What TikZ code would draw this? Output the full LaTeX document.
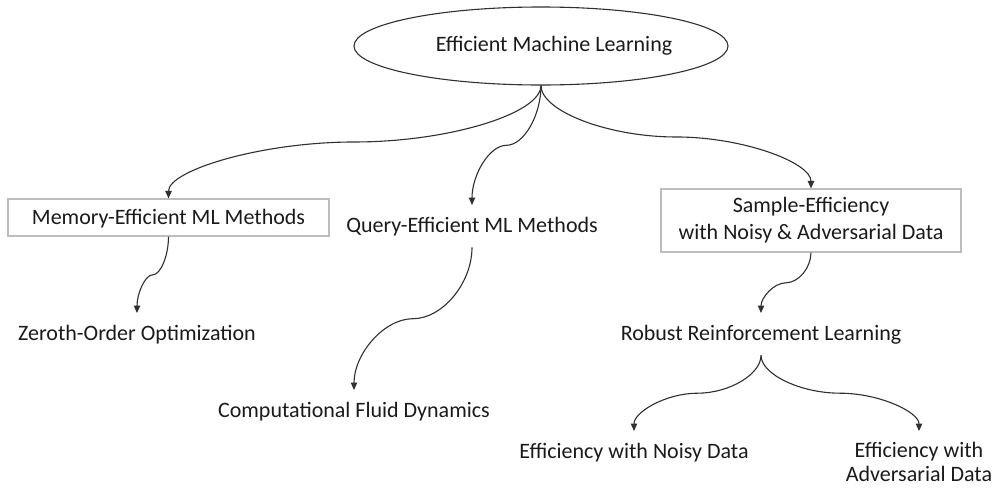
\documentclass[tikz,border=0pt]{standalone}
\usepackage{fontspec}
\setmainfont{Carlito}
\usetikzlibrary{shapes.geometric,arrows.meta,calc}

\definecolor{ink}{HTML}{1A1A1A}
\definecolor{wire}{HTML}{303030}
\definecolor{frame}{HTML}{BDBDBD}

\tikzset{
  txt/.style={font=\fontsize{22}{26}\selectfont, text=ink, align=center, inner xsep=2pt},
  lbl/.style={txt, text height=17pt, text depth=4pt},
  leaf/.style={lbl, anchor=north, inner ysep=10.5pt},
  leaftwo/.style={txt, anchor=north, inner ysep=1pt, font=\fontsize{22}{24}\selectfont},
  boxed/.style={draw=frame, line width=1.2pt, inner ysep=0pt},
  oval/.style={ellipse, draw=wire, line width=1.1pt, minimum width=374pt,
    minimum height=78pt, inner sep=0pt},
  % curved elbow connector: vertical at both ends, horizontal at the midpoint
  scurve/.style={to path={let \p1=(\tikztostart), \p2=(\tikztotarget) in
    .. controls (\x1,{\y1+0.25*(\y2-\y1)}) and ({\x1+0.25*(\x2-\x1)},{0.5*(\y1+\y2)})
    .. ({0.5*(\x1+\x2)},{0.5*(\y1+\y2)})
    .. controls ({\x1+0.75*(\x2-\x1)},{0.5*(\y1+\y2)}) and (\x2,{\y1+0.75*(\y2-\y1)})
    .. (\tikztotarget)}},
  conn/.style={draw=wire, line width=1.1pt, scurve,
    -{Triangle[length=7.5pt,width=6.5pt]}}
}

\begin{document}
\begin{tikzpicture}[x=1pt,y=-1pt]
  \useasboundingbox (0,0) rectangle (997,488);

  % root
  \node[oval] (root) at (541,46) {};
  \node[lbl, inner ysep=0pt] (roottxt) at (554,45) {Efficient Machine Learning};

  % first level
  \node[lbl, boxed, minimum width=321pt, minimum height=37pt] (mem) at (168.5,217.5)
    {Memory-Efficient ML Methods};
  \node[leaf] (qry) at (472,205) {Query-Efficient ML Methods};
  \node[txt, boxed, minimum width=300pt, minimum height=63pt,
        font=\fontsize{22}{27}\selectfont] (smp) at (811,220.5)
    {\raisebox{-2pt}{Sample-Efficiency}\\\raisebox{-2pt}{with Noisy \& Adversarial Data}};

  % second level
  \node[leaf] (zoo) at (137,313) {Zeroth-Order Optimization};
  \node[leaf] (cfd) at (354,390) {Computational Fluid Dynamics};
  \node[leaf] (rrl) at (761,313) {Robust Reinforcement Learning};

  % third level
  \node[leaftwo] (adv) at (919,431) {\rule{0pt}{25pt}Efficiency with\\Adversarial Data};
  \node[leaf] (noisy) at (634,431) {Efficiency with Noisy Data};

  % connectors
  \draw[conn] (root.south) to (mem.north);
  \draw[conn] (root.south) to (qry.north);
  \draw[conn] (root.south) to (smp.north);
  \draw[conn] (mem.south) to (zoo.north);
  \draw[conn] (qry.south) to (cfd.north);
  \draw[conn] (smp.south) to (rrl.north);
  \draw[conn] (rrl.south) to (noisy.north);
  \draw[conn] (rrl.south) to (adv.north);
\end{tikzpicture}
\end{document}
